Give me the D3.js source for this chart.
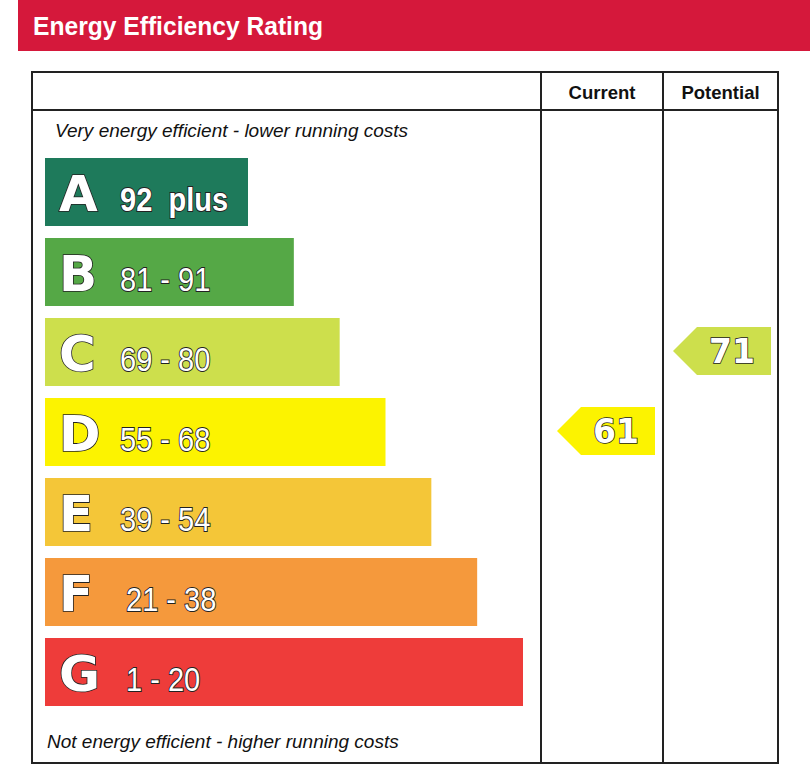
<!DOCTYPE html>
<html><head><meta charset="utf-8">
<script src="https://cdn.jsdelivr.net/npm/d3@7"></script>
<style>body{margin:0;background:#fff}svg{display:block}</style>
</head><body>
<svg id="c" width="810" height="767"></svg>
<script>
const letters = ["A","B","C","D","E","F","G"];
const ranges = ["92  plus","81 - 91","69 - 80","55 - 68","39 - 54","21 - 38","1 - 20"];
const mins = [92,81,69,55,39,21,1];
const colors = ["#1e7a5b","#55a846","#cddf4c","#fcf300","#f4c638","#f5993c","#ee3c3a"];
const columns = ["Current","Potential"];
const ratings = [61,71];
const title = "Energy Efficiency Rating";
const topNote = "Very energy efficient - lower running costs";
const bottomNote = "Not energy efficient - higher running costs";

const svg = d3.select("#c");
const sans = "'Liberation Sans',Arial,sans-serif";

// header band
svg.append("rect").attr("x",18).attr("y",0).attr("width",792).attr("height",51).attr("fill","#d5183b");
svg.append("text").attr("x",33).attr("y",35).text(title)
  .attr("font-family",sans).attr("font-weight","bold").attr("font-size",25)
  .attr("textLength",290).attr("lengthAdjust","spacingAndGlyphs").attr("fill","#fff");

// table frame
const T = {l:32, r:778, t:72, h:110, b:763};
const colX = [541,663,778];
const g = svg.append("g").attr("stroke","#222").attr("stroke-width",2).attr("fill","none");
g.append("rect").attr("x",T.l).attr("y",T.t).attr("width",T.r-T.l).attr("height",T.b-T.t);
g.append("line").attr("x1",T.l).attr("x2",T.r).attr("y1",T.h).attr("y2",T.h);
colX.slice(0,2).forEach(x=>g.append("line").attr("x1",x).attr("x2",x).attr("y1",T.t).attr("y2",T.b));

columns.forEach((c,i)=>{
  svg.append("text").attr("x",(colX[i]+colX[i+1])/2).attr("y",99).attr("text-anchor","middle")
    .attr("font-family",sans).attr("font-weight","bold").attr("font-size",18.5).attr("fill","#111").text(c);
});

svg.append("text").attr("x",55).attr("y",137).text(topNote)
  .attr("font-family",sans).attr("font-style","italic").attr("font-size",19).attr("fill","#111");
svg.append("text").attr("x",47).attr("y",748).text(bottomNote)
  .attr("font-family",sans).attr("font-style","italic").attr("font-size",19).attr("fill","#111");

// scales
const y = d3.scaleBand().domain(letters).range([158,706]).paddingInner(0.15).paddingOuter(0);
const w = d3.scaleLinear().domain([0,6]).range([203,478]);
const x0 = 45;

const rows = svg.append("g").selectAll("g").data(letters).join("g")
  .attr("transform",d=>`translate(${x0},${y(d)})`);
rows.append("rect").attr("width",(d,i)=>w(i)).attr("height",y.bandwidth()).attr("fill",(d,i)=>colors[i]);
rows.append("text").attr("x",14).attr("y",y.bandwidth()/2+19).text(d=>d)
  .attr("font-family","'DejaVu Sans',sans-serif").attr("font-weight","bold").attr("font-size",50)
  .attr("fill","#fff").attr("stroke","#222").attr("stroke-width",1.6).attr("paint-order","stroke");
rows.append("g").attr("transform",(d,i)=>`translate(${i>=5?81:75},${y.bandwidth()/2+19}) scale(0.88,1)`)
  .append("text").text((d,i)=>ranges[i]).attr("xml:space","preserve").style("white-space","pre")
  .attr("font-family",sans).attr("font-weight",(d,i)=>i===0?"bold":"normal").attr("font-size",33)
  .attr("fill","#fff").attr("stroke","#222").attr("stroke-width",1.9).attr("paint-order","stroke");

// rating arrows
function bandOf(v){ return mins.findIndex(m=>v>=m); }
const arrowH = 48, tipW = 24;
const insetL = [16,10], insetR = [8,7];
const arrows = svg.append("g").selectAll("g").data(ratings).join("g")
  .attr("transform",(v,i)=>{
    const b = bandOf(v);
    const cy = y(letters[b]) + y.bandwidth()/2 - 1;
    return `translate(${colX[i]+insetL[i]},${cy})`;
  });
const aw = i => (colX[i+1]-insetR[i]) - (colX[i]+insetL[i]);
arrows.append("path").attr("d",(v,i)=>
    `M0,0L${tipW},${-arrowH/2}L${aw(i)},${-arrowH/2}L${aw(i)},${arrowH/2}L${tipW},${arrowH/2}Z`)
  .attr("fill",v=>colors[bandOf(v)]);
arrows.append("text").attr("x",(v,i)=>(aw(i)+tipW)/2-2).attr("y",12)
  .attr("text-anchor","middle").text(v=>v)
  .attr("font-family","'DejaVu Sans',sans-serif").attr("font-weight","bold").attr("font-size",33)
  .attr("fill","#fff").attr("stroke","#222").attr("stroke-width",1.5).attr("paint-order","stroke");
</script>
</body></html>
